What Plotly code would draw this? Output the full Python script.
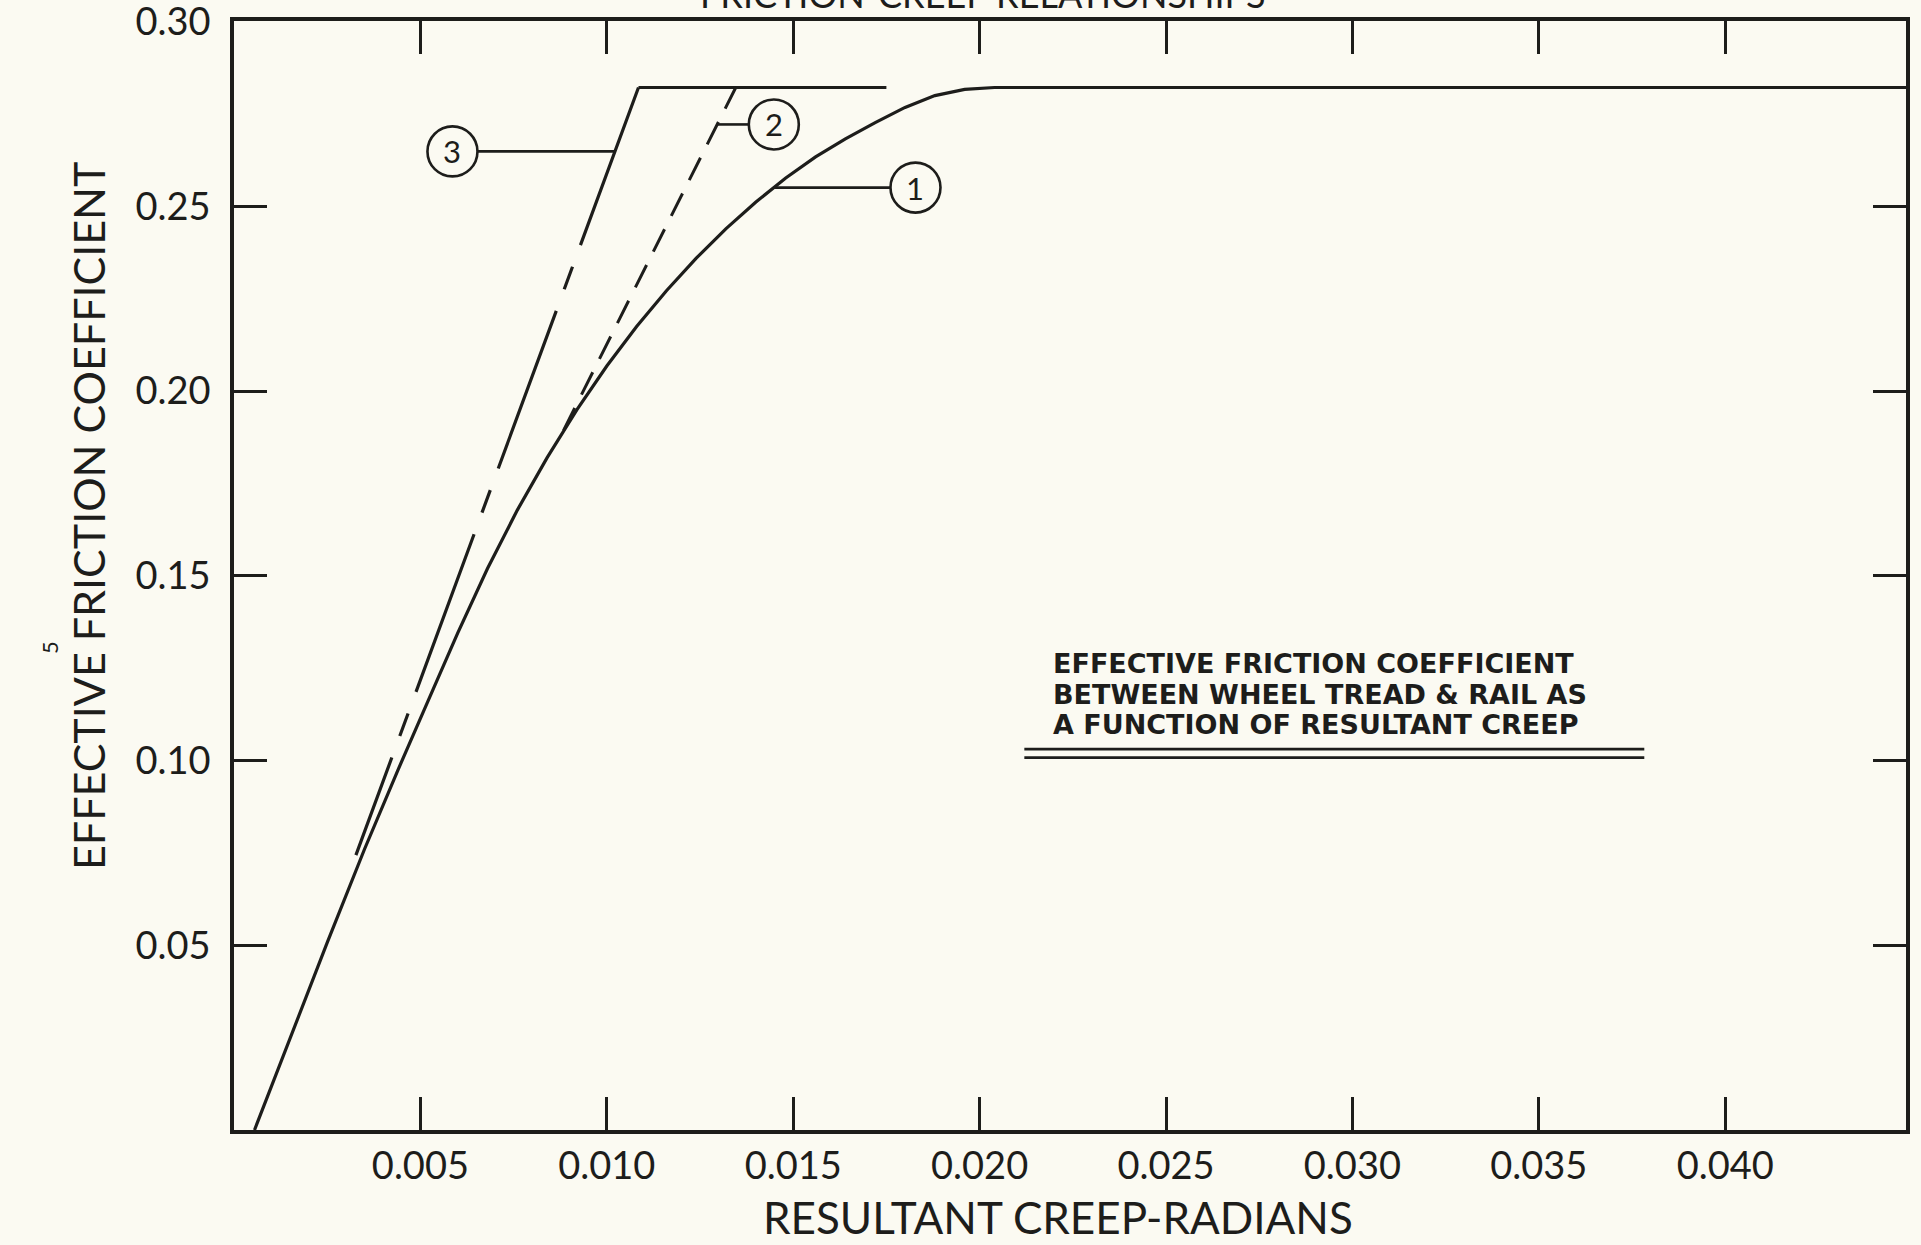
import numpy as np
import plotly.graph_objects as go

# ---------------- data ----------------
# curve 1 : solid smooth curve
creep_1 = [0.00055, 0.0015, 0.0025, 0.0035, 0.0044, 0.0052, 0.0060, 0.0068,
           0.0076, 0.0084, 0.0092, 0.0100, 0.0108, 0.0116, 0.0124, 0.0132,
           0.0140, 0.0148, 0.0156, 0.0164, 0.0172, 0.0180, 0.0188, 0.0196,
           0.0204, 0.0300, 0.0449]
mu_1 = [0.0, 0.0247, 0.0507, 0.0760, 0.0975, 0.1160, 0.1345, 0.1520,
        0.1678, 0.1820, 0.1950, 0.2068, 0.2175, 0.2272, 0.2360, 0.2440,
        0.2512, 0.2577, 0.2634, 0.2683, 0.2727, 0.2768, 0.2800, 0.2817,
        0.2822, 0.2822, 0.2822]
# curve 2 : dashed branch
creep_2 = [0.00884, 0.01345]
mu_2 = [0.1894, 0.2820]
# curve 3 : straight line (dash-dot where apart from curve 1) and its plateau
creep_3 = [0.01085, 0.00327]
mu_3 = [0.2822, 0.0744]
creep_3_flat = [0.01085, 0.0175]
mu_3_flat = [0.2822, 0.2822]

x_ticks = [0.005, 0.010, 0.015, 0.020, 0.025, 0.030, 0.035, 0.040]
x_tick_text = ["0.005", "0.010", "0.015", "0.020", "0.025", "0.030", "0.035", "0.040"]
y_ticks = [0.05, 0.10, 0.15, 0.20, 0.25, 0.30]
y_tick_text = ["0.05", "0.10", "0.15", "0.20", "0.25", "0.30"]

label_ids = ["3", "2", "1"]
label_x = [0.00586, 0.01448, 0.01828]
label_y = [0.2649, 0.2722, 0.2551]

note_lines = ["EFFECTIVE FRICTION COEFFICIENT",
              "BETWEEN WHEEL TREAD &amp; RAIL AS",
              "A FUNCTION OF RESULTANT CREEP"]
note_x = 0.02192
note_y = [0.1263, 0.1180, 0.1097]
underline_x = [0.0212, 0.03783]
underline_y = [0.1031, 0.1008]

# ---------------- styling ----------------
INK = "#1d1d1b"
BG = "#fbfaf2"
FONT = "Lato, 'Noto Sans', sans-serif"
NOTE_FONT = "'DejaVu Sans', sans-serif"
W, H = 1921, 1245
ML, MR, MT, MB = 234, 15, 21, 115
X_RANGE = [0, 0.04485]
Y_RANGE = [0, 0.3002]
PLOT_W = W - ML - MR
PLOT_H = H - MT - MB


def paper_x(px):
    return (px - ML) / PLOT_W


def paper_y(py):
    return 1 - (py - MT) / PLOT_H


fig = go.Figure()

fig.add_trace(go.Scatter(x=creep_1, y=mu_1, mode="lines",
                         line=dict(color=INK, width=3.2),
                         name="1", showlegend=False, hoverinfo="skip"))
fig.add_trace(go.Scatter(x=creep_2, y=mu_2, mode="lines",
                         line=dict(color=INK, width=3, dash="25px,15px"),
                         name="2", showlegend=False, hoverinfo="skip"))
fig.add_trace(go.Scatter(x=creep_3, y=mu_3, mode="lines",
                         line=dict(color=INK, width=3.2, dash="168px,23px,24px,23px"),
                         name="3", showlegend=False, hoverinfo="skip"))
fig.add_trace(go.Scatter(x=creep_3_flat, y=mu_3_flat, mode="lines",
                         line=dict(color=INK, width=3.2),
                         name="3 plateau", showlegend=False, hoverinfo="skip"))

# ---------------- curve labels (circled numbers + leaders) ----------------
R = 25  # circle radius in px
px_per_x = PLOT_W / (X_RANGE[1] - X_RANGE[0])
r_data = R / px_per_x


def x_on_line(xs, ys, yv):
    order = np.argsort(ys)
    return float(np.interp(yv, np.array(ys)[order], np.array(xs)[order]))


leader_targets = [
    x_on_line(creep_3, mu_3, label_y[0]),
    x_on_line(creep_2, mu_2, label_y[1]),
    x_on_line(creep_1[:-3], mu_1[:-3], label_y[2]),
]

for lid, lx, ly, tx in zip(label_ids, label_x, label_y, leader_targets):
    fig.add_shape(type="circle", xref="x", yref="y", xsizemode="pixel", ysizemode="pixel",
                  xanchor=lx, yanchor=ly, x0=-R, x1=R, y0=-R, y1=R,
                  line=dict(color=INK, width=2.6))
    start = lx + r_data if tx > lx else lx - r_data
    fig.add_shape(type="line", xref="x", yref="y", x0=start, x1=tx, y0=ly, y1=ly,
                  line=dict(color=INK, width=2.6))
    fig.add_annotation(x=lx, y=ly, xref="x", yref="y", text=lid, showarrow=False,
                       xanchor="center", yanchor="middle",
                       font=dict(family=FONT, size=31, color=INK))

# ---------------- explanatory note ----------------
for t, ny in zip(note_lines, note_y):
    fig.add_annotation(x=note_x, y=ny, xref="x", yref="y", text=t, showarrow=False,
                       xanchor="left", yanchor="middle",
                       font=dict(family=NOTE_FONT, size=27, color=INK, weight="bold"))
for uy in underline_y:
    fig.add_shape(type="line", xref="x", yref="y", x0=underline_x[0], x1=underline_x[1],
                  y0=uy, y1=uy, line=dict(color=INK, width=2.8))

# axis titles (placed where the reference has them)
fig.add_annotation(x=paper_x(1058), y=paper_y(1217), xref="paper", yref="paper",
                   xanchor="center", yanchor="middle",
                   text="RESULTANT CREEP-RADIANS", showarrow=False,
                   font=dict(family=FONT, size=44, color=INK))
fig.add_annotation(x=paper_x(88), y=paper_y(516), xref="paper", yref="paper",
                   xanchor="center", yanchor="middle",
                   text="EFFECTIVE FRICTION COEFFICIENT", showarrow=False, textangle=-90,
                   font=dict(family=FONT, size=43, color=INK))

# cut-off title at the top edge of the page
fig.add_annotation(x=paper_x(983), y=1, xref="paper", yref="paper",
                   xanchor="center", yanchor="middle", yshift=MT + 6,
                   text="FRICTION-CREEP RELATIONSHIPS", showarrow=False,
                   font=dict(family=FONT, size=36, color=INK))
# small rotated page number
fig.add_annotation(x=paper_x(49), y=paper_y(648), xref="paper", yref="paper", text="5",
                   xanchor="center", yanchor="middle",
                   showarrow=False, textangle=-90,
                   font=dict(family=FONT, size=22, color=INK))

axis_common = dict(showline=True, linecolor=INK, linewidth=3.5, mirror="allticks",
                   ticks="inside", ticklen=33, tickwidth=2.6, tickcolor=INK,
                   showgrid=False, zeroline=False, automargin=False,
                   ticklabeloverflow="allow",
                   tickfont=dict(family=FONT, size=38, color=INK))

fig.update_layout(
    width=W, height=H,
    margin=dict(l=ML, r=MR, t=MT, b=MB, autoexpand=False),
    paper_bgcolor=BG, plot_bgcolor=BG,
    showlegend=False,
    xaxis=dict(range=X_RANGE, tickvals=x_ticks, ticktext=x_tick_text,
               ticklabelstandoff=0, **axis_common),
    yaxis=dict(range=Y_RANGE, tickvals=y_ticks, ticktext=y_tick_text,
               ticklabelstandoff=12, **axis_common),
)

fig.write_html(
    "out.html",
    config={"displayModeBar": False},
    post_script="document.body.style.margin='0';document.body.style.background='%s';" % BG,
)
